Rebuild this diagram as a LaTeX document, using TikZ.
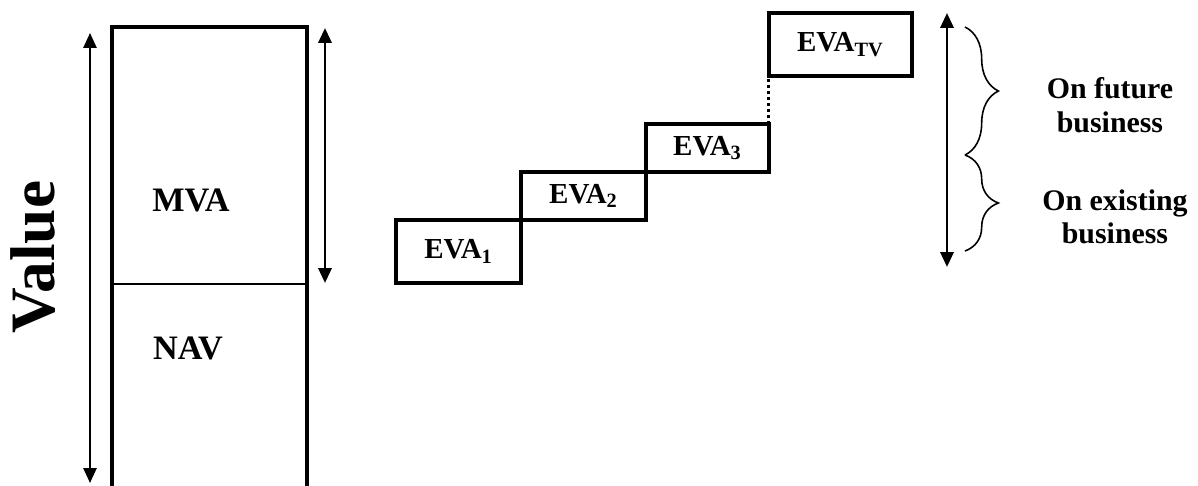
\documentclass[tikz,border=0pt]{standalone}
\usepackage{fontspec}
\setmainfont{Liberation Serif}
\usepackage{tikz}
\usetikzlibrary{arrows.meta,positioning,decorations.pathreplacing}

\begin{document}
\begin{tikzpicture}[
    x=0.02cm, y=-0.02cm,
    evabox/.style={draw, line width=1.9pt, inner sep=0pt, outer sep=0pt,
      minimum width=2.5cm, minimum height=0.96cm,
      font=\fontsize{16.5}{18}\selectfont\bfseries},
    tallbox/.style={minimum height=1.26cm},
    lbl/.style={font=\fontsize{19.5}{22}\selectfont\bfseries},
    side/.style={font=\fontsize{17}{19}\selectfont\bfseries, align=center},
    frame/.style={line width=1.8pt},
    thinarr/.style={{Triangle[length=8.5pt,width=7.5pt]}-{Triangle[length=8.5pt,width=7.5pt]}, line width=1.1pt},
    arr/.style={{Triangle[length=8.5pt,width=7.5pt]}-{Triangle[length=8.5pt,width=7.5pt]}, line width=1.6pt},
    brc/.style={decorate, decoration={brace, amplitude=19pt}, line width=0.9pt}
  ]
    \useasboundingbox (0,0) rectangle (1198,486);

    % value axis
    \node[rotate=90, anchor=base, font=\fontsize{36}{40}\selectfont\bfseries] (value) at (54,257) {Value};
    \coordinate (valtop) at (90,33);
    \coordinate (valbot) at (90,483);
    \draw[thinarr] (valtop) -- (valbot);

    % MVA / NAV column
    \draw[frame] (112,486) -- (112,27) -- (307,27) -- (307,486);
    \draw[line width=1.3pt] (112,284) -- (307,284);
    \node[lbl] (mva) at (191,200) {MVA};
    \node[lbl] (nav) at (188,348) {NAV};
    \coordinate (mvatop) at (325,28);
    \coordinate (mvabot) at (325,283);
    \draw[arr] (mvatop) -- (mvabot);

    % EVA staircase
    \node[evabox, tallbox] (eva1) at (458.5,251.5) {EVA\textsubscript{1}};
    \node[evabox, above right=0pt and 0pt of eva1] (eva2) {EVA\textsubscript{2}};
    \node[evabox, minimum width=2.46cm, above right=0pt and 0pt of eva2] (eva3) {EVA\textsubscript{3}};
    \node[evabox, tallbox, minimum width=2.86cm, above right=0.96cm and 0pt of eva3] (evatv) {EVA\textsubscript{TV}};
    \draw[line width=1.7pt, dash pattern=on 1.7pt off 1.7pt] (eva3.north east) -- (evatv.south west);

    % split of the value
    \coordinate (evatop) at (947,13);
    \coordinate (evabot) at (947,267);
    \draw[arr] (evatop) -- (evabot);
    \coordinate (b1) at (965,27);
    \coordinate (b2) at (965,155);
    \coordinate (b3) at (965,251);
    \draw[brc] (b1) -- (b2);
    \draw[brc] (b2) -- (b3);
    \node[side] (future) at (1110,105) {On future\\business};
    \node[side] (existing) at (1115,217) {On existing\\business};
  \end{tikzpicture}
\end{document}
